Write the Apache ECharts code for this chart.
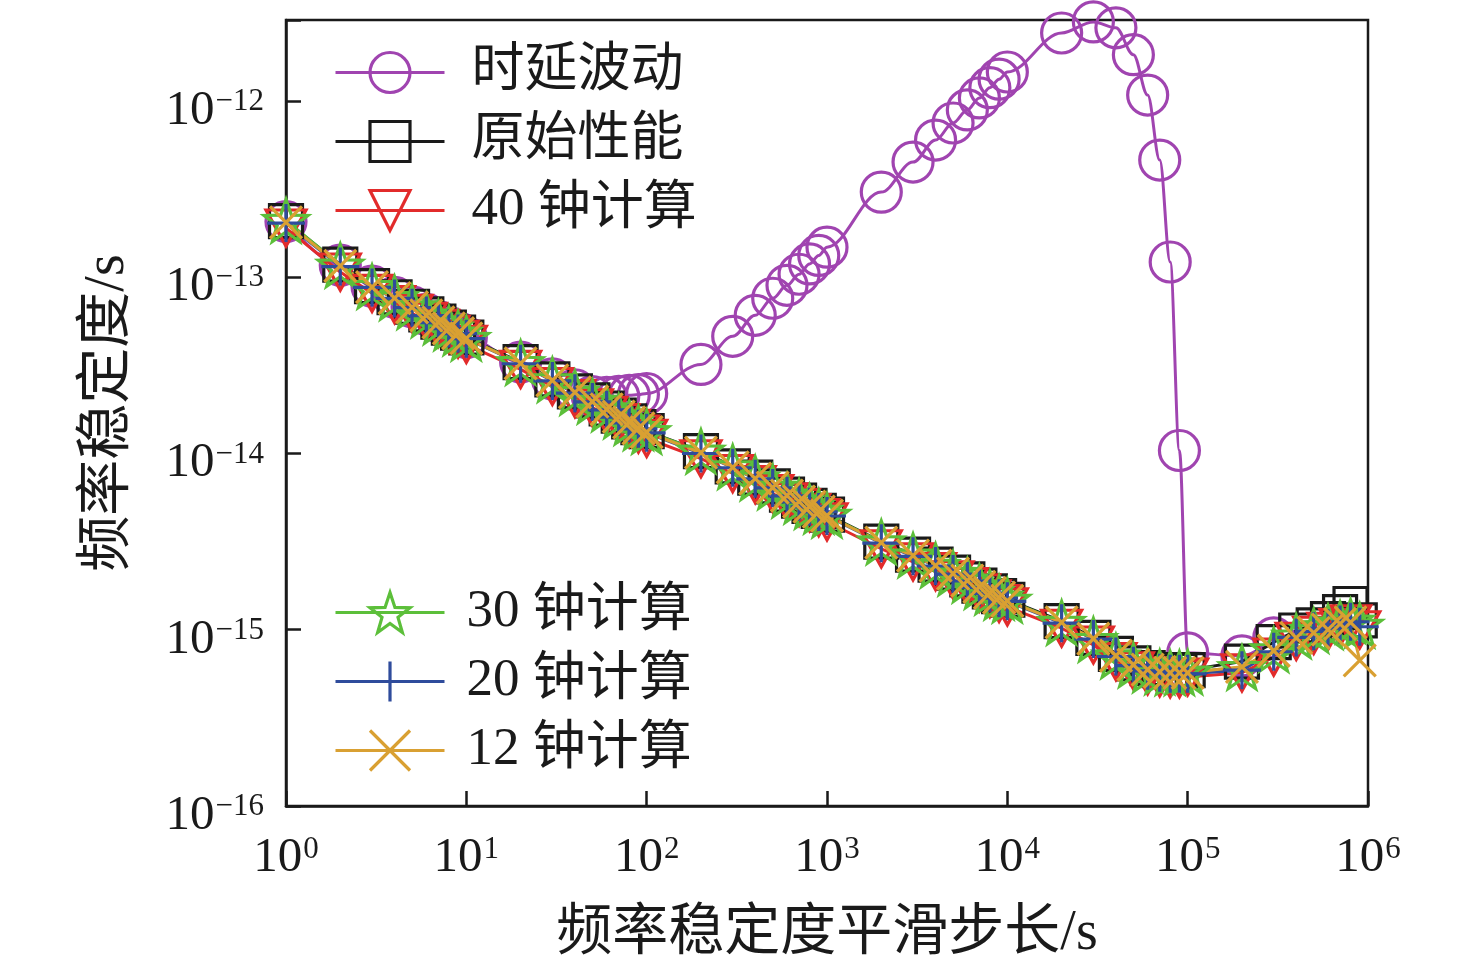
<!DOCTYPE html>
<html>
<head>
<meta charset="utf-8">
<title>频率稳定度</title>
<script src="https://cdn.jsdelivr.net/npm/echarts@6.0.0/dist/echarts.min.js"></script>
<style>
    html, body { margin: 0; padding: 0; background: #ffffff; }
    #chart { width: 1476px; height: 967px; }
</style>
</head>
<body>
<div id="chart"></div>
<script>
// 平滑步长 (s)
var taus = [1, 2, 3, 4, 5, 6, 7, 8, 9,
    10, 20, 30, 40, 50, 60, 70, 80, 90,
    100, 200, 300, 400, 500, 600, 700, 800, 900,
    1000, 2000, 3000, 4000, 5000, 6000, 7000, 8000, 9000,
    1e4, 2e4, 3e4, 4e4, 5e4, 6e4, 7e4, 8e4, 9e4,
    1e5, 2e5, 3e5, 4e5, 5e5, 6e5, 7e5, 8e5, 9e5];

// 时延波动 (only up to 3e5)
var delayFluct = [2.07e-13, 1.17e-13, 8.9e-14, 7.7e-14, 6.8e-14, 6.15e-14, 5.6e-14, 5.2e-14, 4.85e-14,
    4.55e-14, 3.3e-14, 2.65e-14, 2.3e-14, 2.1e-14, 2.08e-14, 2.11e-14, 2.14e-14, 2.16e-14,
    2.19e-14, 3.2e-14, 4.62e-14, 6.08e-14, 7.6e-14, 9.0e-14, 1.04e-13, 1.19e-13, 1.33e-13,
    1.48e-13, 3.04e-13, 4.5e-13, 6.0e-13, 7.5e-13, 8.9e-13, 1.04e-12, 1.19e-12, 1.33e-12,
    1.46e-12, 2.43e-12, 2.81e-12, 2.6e-12, 1.83e-12, 1.08e-12, 4.62e-13, 1.22e-13, 1.04e-14,
    7.4e-16, 7.1e-16, 9.0e-16];

// 原始性能
var original = [2.08e-13, 1.18e-13, 8.9e-14, 7.7e-14, 6.8e-14, 6.15e-14, 5.6e-14, 5.18e-14, 4.85e-14,
    4.55e-14, 3.3e-14, 2.63e-14, 2.25e-14, 2.0e-14, 1.8e-14, 1.64e-14, 1.52e-14, 1.41e-14,
    1.34e-14, 1.03e-14, 8.45e-15, 7.3e-15, 6.5e-15, 5.85e-15, 5.4e-15, 5.05e-15, 4.73e-15,
    4.5e-15, 3.16e-15, 2.67e-15, 2.34e-15, 2.11e-15, 1.93e-15, 1.78e-15, 1.65e-15, 1.55e-15,
    1.48e-15, 1.12e-15, 9.0e-16, 7.3e-16, 6.45e-16, 6.05e-16, 5.9e-16, 5.85e-16, 5.85e-16,
    5.9e-16, 6.6e-16, 8.5e-16, 9.9e-16, 1.06e-15, 1.15e-15, 1.26e-15, 1.4e-15, 1.13e-15];

// 40 钟计算
var clock40 = [1.9e-13, 1.07e-13, 8.1e-14, 7.0e-14, 6.24e-14, 5.62e-14, 5.13e-14, 4.74e-14, 4.45e-14,
    4.16e-14, 3.0e-14, 2.4e-14, 2.05e-14, 1.82e-14, 1.65e-14, 1.5e-14, 1.39e-14, 1.29e-14,
    1.22e-14, 9.34e-15, 7.7e-15, 6.67e-15, 5.93e-15, 5.33e-15, 4.94e-15, 4.62e-15, 4.33e-15,
    4.1e-15, 2.88e-15, 2.43e-15, 2.14e-15, 1.92e-15, 1.76e-15, 1.62e-15, 1.5e-15, 1.41e-15,
    1.35e-15, 1.02e-15, 8.2e-16, 6.6e-16, 5.85e-16, 5.48e-16, 5.33e-16, 5.27e-16, 5.27e-16,
    5.4e-16, 5.7e-16, 7.0e-16, 8.6e-16, 9.3e-16, 9.8e-16, 1.03e-15, 1.08e-15, 1.0e-15];

// 30 钟计算
var clock30 = [2.1e-13, 1.17e-13, 8.85e-14, 7.65e-14, 6.8e-14, 6.1e-14, 5.57e-14, 5.15e-14, 4.82e-14,
    4.5e-14, 3.28e-14, 2.62e-14, 2.22e-14, 1.98e-14, 1.79e-14, 1.63e-14, 1.5e-14, 1.4e-14,
    1.33e-14, 1.03e-14, 8.4e-15, 7.25e-15, 6.45e-15, 5.8e-15, 5.36e-15, 5.0e-15, 4.7e-15,
    4.46e-15, 3.15e-15, 2.65e-15, 2.32e-15, 2.09e-15, 1.91e-15, 1.76e-15, 1.63e-15, 1.53e-15,
    1.47e-15, 1.1e-15, 8.8e-16, 7.1e-16, 6.3e-16, 5.9e-16, 5.75e-16, 5.7e-16, 5.7e-16,
    5.75e-16, 6.1e-16, 7.7e-16, 9.2e-16, 9.9e-16, 1.04e-15, 1.09e-15, 1.12e-15, 1.06e-15];

// 20 钟计算
var clock20 = [2.03e-13, 1.15e-13, 8.75e-14, 7.58e-14, 6.72e-14, 6.06e-14, 5.53e-14, 5.11e-14, 4.79e-14,
    4.48e-14, 3.23e-14, 2.58e-14, 2.2e-14, 1.96e-14, 1.77e-14, 1.61e-14, 1.49e-14, 1.38e-14,
    1.31e-14, 1.0e-14, 8.3e-15, 7.18e-15, 6.38e-15, 5.75e-15, 5.32e-15, 4.98e-15, 4.66e-15,
    4.42e-15, 3.1e-15, 2.61e-15, 2.3e-15, 2.07e-15, 1.89e-15, 1.74e-15, 1.61e-15, 1.51e-15,
    1.45e-15, 1.09e-15, 8.85e-16, 7.05e-16, 6.25e-16, 5.85e-16, 5.7e-16, 5.62e-16, 5.62e-16,
    5.62e-16, 5.9e-16, 7.5e-16, 9.05e-16, 9.8e-16, 1.02e-15, 1.07e-15, 1.11e-15, 1.04e-15];

// 12 钟计算
var clock12 = [2.05e-13, 1.16e-13, 8.8e-14, 7.6e-14, 6.75e-14, 6.08e-14, 5.55e-14, 5.13e-14, 4.81e-14,
    4.5e-14, 3.25e-14, 2.6e-14, 2.22e-14, 1.97e-14, 1.78e-14, 1.62e-14, 1.5e-14, 1.39e-14,
    1.32e-14, 1.01e-14, 8.33e-15, 7.21e-15, 6.41e-15, 5.77e-15, 5.34e-15, 5.0e-15, 4.68e-15,
    4.44e-15, 3.12e-15, 2.63e-15, 2.31e-15, 2.08e-15, 1.9e-15, 1.75e-15, 1.62e-15, 1.52e-15,
    1.46e-15, 1.1e-15, 8.89e-16, 7.12e-16, 6.33e-16, 5.93e-16, 5.77e-16, 5.7e-16, 5.7e-16,
    5.7e-16, 6.16e-16, 7.6e-16, 9.0e-16, 9.6e-16, 1.0e-15, 1.08e-15, 1.1e-15, 6.7e-16];

var serifFont = "'Liberation Serif', 'Noto Sans CJK SC', serif";
var ink = '#1a1a1a';

var starPath = 'path://M100,0 L123.5,67.6 L195.1,69.1 L138,112.4 L158.8,180.9 L100,140 L41.2,180.9 L62,112.4 L4.9,69.1 L76.5,67.6 Z';
var downTriPath = 'path://M0,0 L20,0 L10,17 Z';
var plusPath = 'path://M10,0 L10,20 M0,10 L20,10';
var crossPath = 'path://M0,0 L20,20 M0,20 L20,0';

function pairs(vals) {
    return vals.map(function (v, i) { return [taus[i], v]; });
}

function makeSeries(name, vals, color, symbol, size, smooth) {
    return {
        name: name,
        type: 'line',
        data: pairs(vals),
        symbol: symbol,
        symbolSize: size,
        showAllSymbol: true,
        smooth: smooth || false,
        smoothMonotone: smooth ? 'x' : undefined,
        clip: false,
        lineStyle: { color: color, width: 3 },
        itemStyle: { color: 'rgba(0,0,0,0)', borderColor: color, borderWidth: 3.2 },
        emphasis: { disabled: true },
        animation: false
    };
}

function powLabel(v) {
    var e = Math.log10(v);
    var n = Math.round(e);
    if (Math.abs(e - n) > 0.01) return '';
    var exp = n < 0 ? '\u2212' + (-n) : String(n);
    return '{b|10}{s|' + exp + '}';
}

var labelRich = {
    b: { fontFamily: serifFont, fontSize: 49, lineHeight: 49, color: ink },
    s: { fontFamily: serifFont, fontSize: 31, lineHeight: 31, color: ink, verticalAlign: 'top', padding: [0, 0, 0, 1] }
};

var chart = echarts.init(document.getElementById('chart'));

var option = {
    backgroundColor: '#ffffff',
    animation: false,
    grid: {
        left: 286, right: 108, top: 20, bottom: 161,
        show: true, borderColor: ink, borderWidth: 2.5, backgroundColor: 'rgba(0,0,0,0)'
    },
    legend: [
        {
            data: ['时延波动', '原始性能', '40 钟计算'],
            orient: 'vertical', left: 334, top: 46, padding: 0,
            itemWidth: 109, itemHeight: 50, itemGap: 16,
            textStyle: { fontFamily: serifFont, fontSize: 53, lineHeight: 52, color: ink, padding: [0, 0, 0, 22] },
            itemStyle: { borderWidth: 3.2 },
            lineStyle: { width: 3 },
            selectedMode: false
        },
        {
            data: ['30 钟计算', '20 钟计算', '12 钟计算'],
            orient: 'vertical', left: 334, top: 586, padding: 0,
            itemWidth: 109, itemHeight: 50, itemGap: 16,
            textStyle: { fontFamily: serifFont, fontSize: 53, lineHeight: 52, color: ink, padding: [0, 0, 0, 17] },
            itemStyle: { borderWidth: 3.2 },
            lineStyle: { width: 3 },
            selectedMode: false
        }
    ],
    xAxis: {
        type: 'log', logBase: 10, min: 1, max: 1e6, splitNumber: 6,
        name: '频率稳定度平滑步长/s', nameLocation: 'middle', nameGap: 100,
        nameTextStyle: { fontFamily: serifFont, fontSize: 56, color: ink },
        axisLine: { show: true, lineStyle: { color: ink, width: 2.5 } },
        axisTick: { show: true, inside: true, length: 15, lineStyle: { color: ink, width: 2.5 } },
        minorTick: { show: false },
        splitLine: { show: false },
        axisLabel: { margin: 28, formatter: function (v) { return powLabel(v); }, rich: labelRich }
    },
    yAxis: {
        type: 'log', logBase: 10, min: 1e-16, max: 2.88e-12, splitNumber: 5,
        name: '频率稳定度/s', nameLocation: 'middle', nameGap: 150,
        nameTextStyle: { fontFamily: serifFont, fontSize: 56, color: ink },
        axisLine: { show: true, lineStyle: { color: ink, width: 2.5 } },
        axisTick: { show: true, inside: true, length: 15, lineStyle: { color: ink, width: 2.5 } },
        minorTick: { show: false },
        splitLine: { show: false },
        axisLabel: { margin: 22, padding: [20, 0, 0, 0], formatter: function (v) { return powLabel(v); }, rich: labelRich }
    },
    series: [
        makeSeries('时延波动', delayFluct, '#A044B0', 'circle', 40, 0.35),
        makeSeries('原始性能', original, '#1a1a1a', 'rect', 33),
        makeSeries('40 钟计算', clock40, '#E22B2B', downTriPath, [40, 36]),
        makeSeries('30 钟计算', clock30, '#5CBF3A', starPath, [44, 42]),
        makeSeries('20 钟计算', clock20, '#2F4C9C', plusPath, 38),
        makeSeries('12 钟计算', clock12, '#D9A032', crossPath, 32)
    ]
};

chart.setOption(option);

window.onresize = function () {
    chart.resize();
};
</script>
</body>
</html>
